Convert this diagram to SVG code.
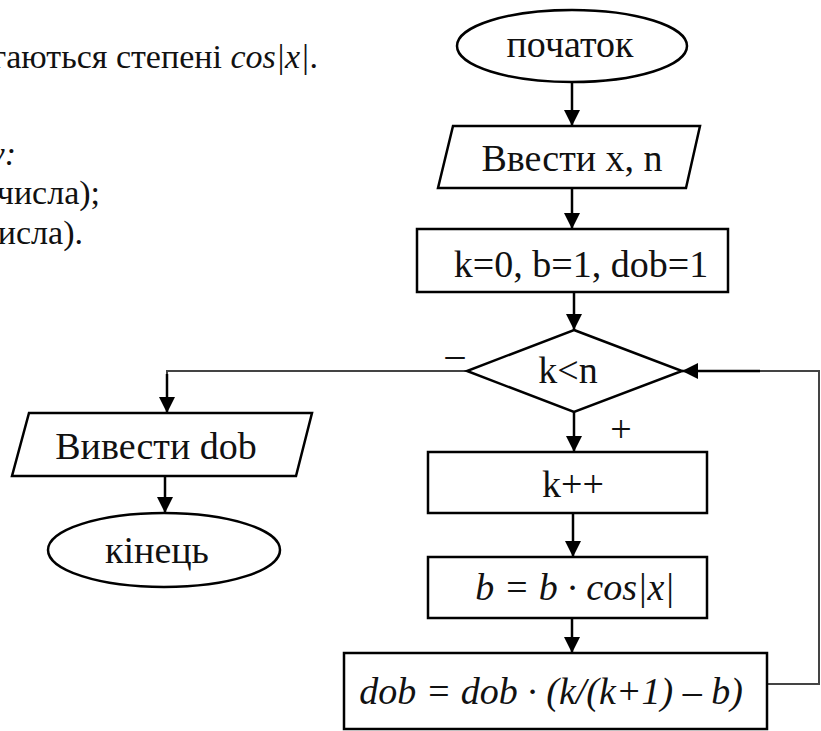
<svg xmlns="http://www.w3.org/2000/svg" width="821" height="731" viewBox="0 0 821 731">
  <style>
    .shape { fill: #fff; stroke: #000; stroke-width: 2.5; }
    .txt { font-family: "Liberation Serif", "Times New Roman", serif; font-size: 38px; fill: #111; }
    .note { font-size: 34px; }
    .it { font-style: italic; }
    .flow { fill: none; stroke: #000; stroke-width: 2.5; }
    .thin { fill: none; stroke: #444; stroke-width: 2; }
  </style>
  <defs>
    <marker id="arrow" markerUnits="userSpaceOnUse" markerWidth="16" markerHeight="16" refX="16" refY="8" orient="auto">
      <path d="M0,0 L16,8 L0,16 Z" fill="#000"/>
    </marker>
  </defs>
  <rect width="821" height="731" fill="#fff"/>

  <!-- surrounding text, cut by the left edge -->
  <g id="notes" class="txt note">
    <text x="318" y="68" text-anchor="end">гаються степені <tspan class="it">cos|x|</tspan>.</text>
    <text x="16" y="165" text-anchor="end" class="it">y:</text>
    <text x="100" y="204" text-anchor="end">числа);</text>
    <text x="83" y="244" text-anchor="end">исла).</text>
  </g>

  <!-- connectors -->
  <g id="connectors">
    <line class="flow" x1="572" y1="82" x2="572" y2="126" marker-end="url(#arrow)"/>
    <line class="flow" x1="572" y1="188" x2="572" y2="229" marker-end="url(#arrow)"/>
    <line class="flow" x1="574" y1="292" x2="574" y2="330" marker-end="url(#arrow)"/>
    <line class="flow" x1="574" y1="412" x2="574" y2="452" marker-end="url(#arrow)"/>
    <line class="flow" x1="573" y1="513" x2="573" y2="557" marker-end="url(#arrow)"/>
    <line class="flow" x1="572" y1="618" x2="572" y2="653" marker-end="url(#arrow)"/>
    <polyline class="thin" points="467,371 167,371 167,376"/>
    <line class="flow" x1="167" y1="374" x2="167" y2="413" marker-end="url(#arrow)"/>
    <line class="flow" x1="165" y1="476" x2="165" y2="513" marker-end="url(#arrow)"/>
    <polyline class="thin" points="767,684 819,684 819,371 700,371"/>
    <line class="flow" x1="760" y1="371" x2="682" y2="371" marker-end="url(#arrow)"/>
    <text class="txt" x="455" y="367" text-anchor="middle">–</text>
    <text class="txt" x="621" y="442" text-anchor="middle">+</text>
  </g>

  <g id="start">
    <ellipse class="shape" cx="572" cy="46" rx="115" ry="36"/>
    <text class="txt" x="570" y="57" text-anchor="middle">початок</text>
  </g>

  <g id="input">
    <polygon class="shape" points="453,126 700,126 686,188 438,188"/>
    <text class="txt" x="572" y="171" text-anchor="middle">Ввести x, n</text>
  </g>

  <g id="init">
    <rect class="shape" x="417" y="229" width="311" height="63"/>
    <text class="txt" x="581" y="277" text-anchor="middle">k=0, b=1, dob=1</text>
  </g>

  <g id="check">
    <polygon class="shape" points="574,330 682,371 574,412 467,371"/>
    <text class="txt" x="568" y="383" text-anchor="middle">k&lt;n</text>
  </g>

  <g id="inc">
    <rect class="shape" x="428" y="452" width="279" height="61"/>
    <text class="txt" x="573" y="497" text-anchor="middle">k++</text>
  </g>

  <g id="power">
    <rect class="shape" x="428" y="557" width="279" height="61"/>
    <text class="txt it" x="575" y="600" text-anchor="middle">b = b · cos|x|</text>
  </g>

  <g id="product">
    <rect class="shape" x="344" y="653" width="423" height="76"/>
    <text class="txt it" x="551" y="704" text-anchor="middle">dob = dob · (k/(k+1) – b)</text>
  </g>

  <g id="output">
    <polygon class="shape" points="29,413 312,413 296,476 12,476"/>
    <text class="txt" x="156" y="459" text-anchor="middle">Вивести dob</text>
  </g>

  <g id="end">
    <ellipse class="shape" cx="164" cy="550" rx="116" ry="37"/>
    <text class="txt" x="157" y="563" text-anchor="middle">кінець</text>
  </g>
</svg>
